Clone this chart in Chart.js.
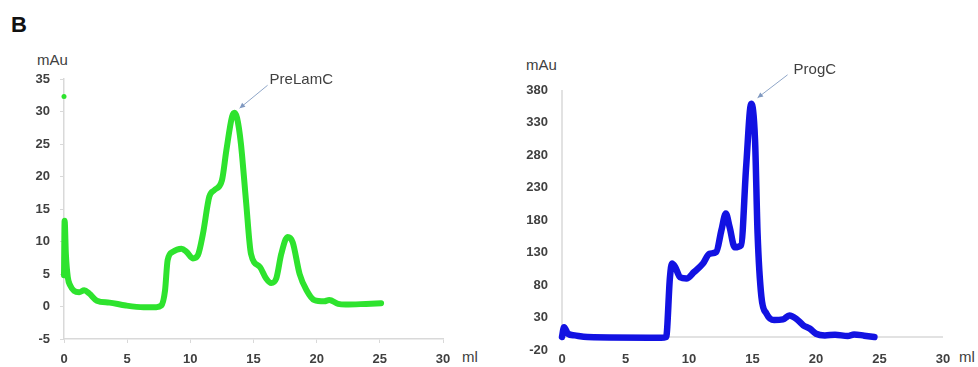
<!DOCTYPE html>
<html>
<head>
<meta charset="utf-8">
<script src="https://cdn.jsdelivr.net/npm/chart.js@4.4.1/dist/chart.umd.min.js"></script>
<style>
body{margin:0;background:#fff;width:978px;height:367px;overflow:hidden;position:relative;font-family:'Liberation Sans',Arial,sans-serif;color:#404040}
.box{position:absolute;top:0}
.lbl{position:absolute;font-size:15px;line-height:15px;white-space:nowrap}
</style>
</head>
<body>
<div class="lbl" style="left:11px;top:14px;font-size:22px;line-height:22px;font-weight:bold;color:#111">B</div>
<div class="lbl" style="left:37px;top:52px">mAu</div>
<div class="lbl" style="left:462px;top:349px">ml</div>
<div class="lbl" style="left:526px;top:57px">mAu</div>
<div class="lbl" style="left:959px;top:349px">ml</div>
<div class="box" style="left:0"><canvas id="c1" width="489" height="367"></canvas></div>
<div class="box" style="left:489px"><canvas id="c2" width="489" height="367"></canvas></div>
<script>
// elution volume (ml) and absorbance (mAu)
var greenMl  = [0, 0.05, 0.15, 0.3, 0.5, 0.8, 1.2, 1.6, 2.0, 2.6, 3.6, 4.9, 6.3, 7.3, 7.7, 8.0, 8.2, 8.6, 9.3, 9.7, 10.2, 10.6, 11.0, 11.5, 11.9, 12.5, 12.85, 13.3, 13.5, 13.7, 14.0, 14.4, 14.8, 15.5, 16.0, 16.4, 16.8, 17.2, 17.7, 18.1, 18.65, 19.2, 19.8, 20.6, 21.0, 21.7, 22.3, 23.9, 25.1];
var greenMau = [4.8, 13.2, 8, 4.5, 3.2, 2.4, 2.2, 2.5, 2.0, 0.9, 0.6, 0.15, -0.1, -0.1, 0.15, 2.5, 7.1, 8.4, 8.9, 8.4, 7.4, 7.9, 11.2, 16.9, 17.9, 19.4, 24, 29.2, 29.8, 29.0, 25.1, 16.4, 8.1, 6.1, 4.3, 3.6, 4.3, 8.1, 10.7, 9.9, 5.0, 2.5, 1.0, 0.8, 1.0, 0.4, 0.3, 0.4, 0.5];
var greenDotMl = [0];
var greenDotMau = [32.3];

var blueMl  = [0, 0.16, 0.47, 1.0, 2.0, 7.8, 8.2, 8.5, 8.66, 8.9, 9.3, 9.8, 10.4, 11.1, 11.6, 12.15, 12.55, 12.9, 13.2, 13.6, 14.1, 14.5, 14.9, 15.2, 15.4, 15.7, 16.1, 16.7, 17.4, 17.9, 18.45, 19.0, 19.5, 20.0, 20.7, 21.5, 22.5, 23.0, 23.8, 24.6];
var blueMau = [0, 15, 5, 2.5, 0, -1, 0, 92, 113, 108, 92, 90, 100, 113, 128, 131, 164, 190, 169, 138, 141, 262, 359, 303, 159, 62, 36, 26, 27, 33, 28, 18, 13, 5, 2.5, 3.5, 1.5, 4, 2, 0];

// axis ticks
var xTicks = [0, 5, 10, 15, 20, 25, 30];
var leftYTicks = [-5, 0, 5, 10, 15, 20, 25, 30, 35];
var rightYTicks = [-20, 30, 80, 130, 180, 230, 280, 330, 380];

// peak labels (arrow tip in data units)
var peakNames = ['PreLamC', 'ProgC'];
var peakMl = [13.9, 15.4];
var peakMau = [30.5, 368];

var GREEN = '#2ee32e', BLUE = '#1212e2', AXIS = '#d9d9d9', TXT = '#404040';
var tickFont = {family: "'Liberation Sans', Arial, sans-serif", size: 13, weight: 'bold'};

function pts(xs, ys) {
  return xs.map(function(v, i) { return {x: v, y: ys[i]}; });
}
function setTicks(list) {
  return function(s) { s.ticks = list.map(function(v) { return {value: v}; }); };
}

//little arrow + text pointing at the main peak
var peakArrow = {
  id: 'peakArrow',
  afterDatasetsDraw: function(chart, args, o) {
    var ctx = chart.ctx, x = chart.scales.x, y = chart.scales.y;
    var tx = x.getPixelForValue(o.x), ty = y.getPixelForValue(o.y);
    var sx = tx + o.dx, sy = ty + o.dy;
    ctx.save();
    ctx.strokeStyle = '#8fa6c8';
    ctx.fillStyle = '#7f98c0';
    ctx.lineWidth = 1;
    ctx.beginPath(); ctx.moveTo(sx, sy); ctx.lineTo(tx, ty); ctx.stroke();
    var a = Math.atan2(ty - sy, tx - sx);
    ctx.beginPath();
    ctx.moveTo(tx, ty);
    ctx.lineTo(tx - 6 * Math.cos(a - 0.45), ty - 6 * Math.sin(a - 0.45));
    ctx.lineTo(tx - 6 * Math.cos(a + 0.45), ty - 6 * Math.sin(a + 0.45));
    ctx.closePath(); ctx.fill();
    ctx.fillStyle = TXT;
    ctx.font = "15px 'Liberation Sans', Arial, sans-serif";
    ctx.textBaseline = 'middle';
    ctx.fillText(o.text, sx + o.lx, sy + o.ly);
    ctx.restore();
  }
};

//right chart: axis lines cross at 0, not at the bottom
var zeroAxis = {
  id: 'zeroAxis',
  beforeDatasetsDraw: function(chart) {
    var ctx = chart.ctx, a = chart.chartArea, y0 = chart.scales.y.getPixelForValue(0);
    ctx.save();
    ctx.strokeStyle = AXIS; ctx.lineWidth = 1.5;
    ctx.beginPath();
    ctx.moveTo(a.left, a.top); ctx.lineTo(a.left, y0); ctx.lineTo(a.right, y0);
    ctx.stroke();
    ctx.restore();
  }
};

new Chart(document.getElementById('c1'), {
  type: 'scatter',
  data: {datasets: [
    {data: pts(greenDotMl, greenDotMau), pointRadius: 2.5, pointBackgroundColor: GREEN, pointBorderWidth: 0, showLine: false, clip: false},
    {data: pts(greenMl, greenMau), showLine: true, borderColor: GREEN, borderWidth: 6, pointRadius: 0,
     cubicInterpolationMode: 'monotone', borderJoinStyle: 'round', borderCapStyle: 'round', clip: false}
  ]},
  options: {
    responsive: false, animation: false, events: [],
    layout: {padding: {top: 79, right: 46, left: 0, bottom: 0}},
    plugins: {legend: {display: false}, tooltip: {enabled: false},
      peakArrow: {text: peakNames[0], x: peakMl[0], y: peakMau[0], dx: 28, dy: -23, lx: 2, ly: -5}},
    scales: {
      x: {type: 'linear', min: 0, max: 30, afterBuildTicks: setTicks(xTicks), afterFit: function(s) { s.height = 28; },
          grid: {drawOnChartArea: false, tickLength: 4, color: AXIS},
          border: {color: AXIS, width: 1.5},
          ticks: {padding: 9, font: tickFont, color: TXT, maxRotation: 0}},
      y: {min: -5, max: 35, afterBuildTicks: setTicks(leftYTicks), afterFit: function(s) { s.width = 64; },
          grid: {drawOnChartArea: false, tickLength: 4, color: AXIS},
          border: {color: AXIS, width: 1.5},
          ticks: {padding: 10, font: tickFont, color: TXT}}
    }
  },
  plugins: [peakArrow]
});

new Chart(document.getElementById('c2'), {
  type: 'scatter',
  data: {datasets: [
    {data: pts(blueMl, blueMau), showLine: true, borderColor: BLUE, borderWidth: 6.5, pointRadius: 0,
     cubicInterpolationMode: 'monotone', borderJoinStyle: 'round', borderCapStyle: 'round', clip: false}
  ]},
  options: {
    responsive: false, animation: false, events: [],
    layout: {padding: {top: 90, right: 35, left: 0, bottom: 0}},
    plugins: {legend: {display: false}, tooltip: {enabled: false},
      peakArrow: {text: peakNames[1], x: peakMl[1], y: peakMau[1], dx: 30, dy: -23, lx: 6, ly: -5}},
    scales: {
      x: {type: 'linear', min: 0, max: 30, afterBuildTicks: setTicks(xTicks), afterFit: function(s) { s.height = 17; },
          grid: {display: false, drawTicks: false}, border: {display: false},
          ticks: {padding: 2, font: tickFont, color: TXT, maxRotation: 0}},
      // tick padding 14 would otherwise push the bottom up, so trim it
      y: {min: -20, max: 380, afterBuildTicks: setTicks(rightYTicks),
          afterFit: function(s) { s.width = 73; s.paddingBottom = 8; s.paddingTop = 8; },
          grid: {display: false, drawTicks: false}, border: {display: false},
          ticks: {padding: 14, font: tickFont, color: TXT}}
    }
  },
  plugins: [zeroAxis, peakArrow]
});
</script>
</body>
</html>
